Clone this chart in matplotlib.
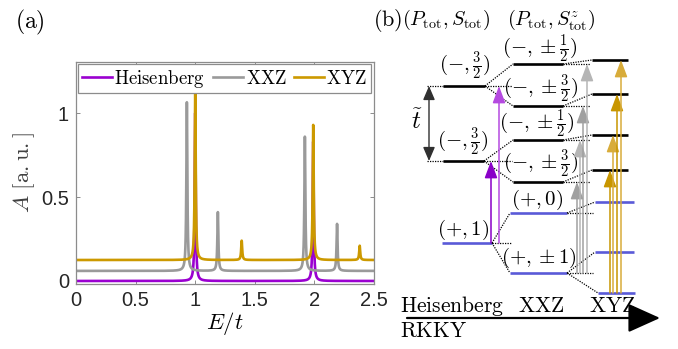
import numpy as np
import matplotlib
matplotlib.use('Agg')
import matplotlib.pyplot as plt

plt.rcParams['mathtext.fontset'] = 'cm'
plt.rcParams['axes.unicode_minus'] = False

# ---- panel (a): spectral function, peak positions / heights
E_range = [0, 2.5]
heis_base = 0.0
heis_pos = [1.0, 1.99]
heis_amp = [1.0, 0.83]
xxz_base = 0.06
xxz_pos = [0.93, 1.19, 1.92, 2.19]
xxz_amp = [1.005, 0.35, 0.80, 0.28]
xyz_base = 0.125
xyz_pos = [1.0, 1.39, 1.99, 2.38]
xyz_amp = [1.005, 0.115, 0.805, 0.085]
gamma = 0.005  # peak half width

xticks = [0, 0.5, 1, 1.5, 2, 2.5]
xticklabels = ['0', '0.5', '1', '1.5', '2', '2.5']
yticks = [0, 0.5, 1]
yticklabels = ['0', '0.5', '1']

# ---- panel (b): level scheme (schematic energies, arbitrary units)
heis_levels = [263, 188, 106]           # (-,3/2), (-,3/2), (+,1)
heis_labels = [r'$(-,\frac{3}{2})$', r'$(-,\frac{3}{2})$', r'$(+,1)$']
xxz_levels = [285, 243, 209, 167, 136, 76]
xxz_labels = [r'$(-,\pm\frac{1}{2})$', r'$(-,\pm\frac{3}{2})$',
              r'$(-,\pm\frac{1}{2})$', r'$(-,\pm\frac{3}{2})$',
              r'$(+,0)$', r'$(+,\pm1)$']
xyz_levels = [289, 255, 214, 179, 147, 97, 56]
# which XXZ level splits into which XYZ level, and Heisenberg -> XXZ
heis_to_xxz = {0: [0, 1], 1: [2, 3], 2: [4, 5]}
xxz_to_xyz = {0: [0], 1: [1], 2: [2], 3: [3], 4: [4], 5: [5, 6]}
# transitions (from level index, to level index)
heis_trans = [(2, 1), (2, 0)]
xxz_trans = [(5, 3), (5, 2), (5, 1), (5, 0)]
xyz_trans = [(6, 3), (6, 2), (6, 1), (6, 0)]


def spectrum(E, base, pos, amp):
    A = np.full_like(E, base)
    for p, a in zip(pos, amp):
        A += a * gamma**2 / ((E - p)**2 + gamma**2)
    return A


W, H = 678, 349
fig = plt.figure(figsize=(W / 100, H / 100), dpi=100)

# ---------------- panel (a)
ax = fig.add_axes([76 / W, 1 - 284 / H, 298 / W, 222 / H], zorder=2)
E = np.linspace(E_range[0], E_range[1], 5001)
c_heis, c_xxz, c_xyz = '#9a00d0', '#9a9a9a', '#cc9900'
ax.plot(E, spectrum(E, heis_base, heis_pos, heis_amp), color=c_heis, lw=1.9, label=r'$\mathrm{Heisenberg}$')
ax.plot(E, spectrum(E, xxz_base, xxz_pos, xxz_amp), color=c_xxz, lw=1.9, label=r'$\mathrm{XXZ}$')
ax.plot(E, spectrum(E, xyz_base, xyz_pos, xyz_amp), color=c_xyz, lw=1.9, label=r'$\mathrm{XYZ}$')
ax.set_xlim(E_range)
ax.set_ylim(-0.018, 1.305)
ax.set_xticks(xticks)
ax.set_xticklabels(xticklabels)
ax.set_yticks(yticks)
ax.set_yticklabels(yticklabels)
for lab in ax.get_xticklabels() + ax.get_yticklabels():
    lab.set_fontfamily('Liberation Sans')
    lab.set_fontsize(14.5)
    lab.set_color('#262626')
ax.tick_params(direction='in', length=3, width=0.7, color='#8c8c8c',
               top=True, right=True, pad=5)
for s in ax.spines.values():
    s.set_color('#8c8c8c')
    s.set_linewidth(0.9)
ax.set_xlabel(r'$E/t$', fontsize=16.5, labelpad=0)
ax.set_ylabel(r'$A\ [\mathrm{a.u.}]$', fontsize=16.5, labelpad=3, color='#404040')
leg = ax.legend(loc='upper left', bbox_to_anchor=(0.0, 1.0), ncol=3, fontsize=13.5,
                handlelength=1.6, handletextpad=0.15, columnspacing=0.4,
                borderpad=0.2, borderaxespad=0.1, fancybox=False, framealpha=1)
leg.get_frame().set_edgecolor('#8c8c8c')
leg.get_frame().set_linewidth(0.9)
fig.text(30 / W, 1 - 22 / H, r'$\mathrm{(a)}$', fontsize=17, ha='center', va='center')

# ---------------- panel (b)
bx = fig.add_axes([0, 0, 1, 1], zorder=1)
bx.set_xlim(0, W)
bx.set_ylim(0, H)
bx.axis('off')

black, blue = 'black', '#5a5ad8'
dot = dict(color='black', lw=0.9, ls=(0, (1, 1)))

# column extents (x) of the three level columns
heis_x = [(443, 485), (443, 484), (442, 492)]
xxz_x = [(513, 563)] * 4 + [(510, 567)] * 2
xyz_x = [(592, 628)] * 4 + [(595, 634), (595, 634), (598, 635)]
heis_col = [black, black, blue]
xxz_col = [black] * 4 + [blue] * 2
xyz_col = [black] * 4 + [blue] * 3

for lv, (x0, x1), c in zip(heis_levels, heis_x, heis_col):
    bx.plot([x0, x1], [lv, lv], color=c, lw=1.9, solid_capstyle='butt')
for lv, (x0, x1), c in zip(xxz_levels, xxz_x, xxz_col):
    bx.plot([x0, x1], [lv, lv], color=c, lw=1.9, solid_capstyle='butt')
for lv, (x0, x1), c in zip(xyz_levels, xyz_x, xyz_col):
    bx.plot([x0, x1], [lv, lv], color=c, lw=1.9, solid_capstyle='butt')

# dotted left extensions for the t~ bracket
for lv in heis_levels[:2]:
    bx.plot([427, 443], [lv, lv], **dot)

# splitting connectors
for i, kids in heis_to_xxz.items():
    x_end = heis_x[i][1]
    bx.plot([x_end, 512], [heis_levels[i]] * 2, **dot)
    for k in kids:
        bx.plot([x_end, xxz_x[k][0]], [heis_levels[i], xxz_levels[k]], **dot)
for i, kids in xxz_to_xyz.items():
    x_end = xxz_x[i][1]
    bx.plot([x_end, xyz_x[kids[0]][0] - 2], [xxz_levels[i]] * 2, **dot)
    for k in kids:
        bx.plot([x_end, xyz_x[k][0]], [xxz_levels[i], xyz_levels[k]], **dot)

# level labels
heis_lab_pos = [(465, 283), (463, 207), (463, 119)]
xxz_lab_pos = [(540, 300), (541, 260), (537, 225), (541, 185), (537, 149), (539, 91)]
for (x, y), t in zip(heis_lab_pos, heis_labels):
    bx.text(x, y, t, fontsize=15, ha='center', va='center')
for (x, y), t in zip(xxz_lab_pos, xxz_labels):
    bx.text(x, y, t, fontsize=15, ha='center', va='center')

# headers
fig.text(388 / W, 1 - 20 / H, r'$\mathrm{(b)}$', fontsize=16, ha='center', va='center')
bx.text(446, 329, r'$(P_{\rm tot},S_{\rm tot})$', fontsize=14.5, ha='center', va='center')
bx.text(551, 329, r'$(P_{\rm tot},S^z_{\rm tot})$', fontsize=14.5, ha='center', va='center')

# t~ double arrow
bx.annotate('', xy=(429, heis_levels[1]), xytext=(429, heis_levels[0]),
            arrowprops=dict(arrowstyle='<|-|>,head_length=0.7,head_width=0.3', mutation_scale=12,
                            lw=1.0, color='#303030', shrinkA=0, shrinkB=0))
bx.text(417, 227, r'$\tilde{t}$', fontsize=18, ha='center', va='center')


def arrow(x, y0, y1, c):
    bx.annotate('', xy=(x, y1), xytext=(x, y0),
                arrowprops=dict(arrowstyle='-|>,head_length=0.8,head_width=0.3',
                                mutation_scale=13, lw=1.1, color=c, shrinkA=0, shrinkB=0))


heis_arrow_x = [491, 499]
heis_arrow_c = ['#8a00c8', '#b54ae0']
for (i, j), x, c in zip(heis_trans, heis_arrow_x, heis_arrow_c):
    arrow(x, heis_levels[i], heis_levels[j], c)

xxz_arrow_x = [577, 580, 583, 587]
xxz_arrow_c = ['#a0a0a0', '#b5b5b5', '#a0a0a0', '#b5b5b5']
for (i, j), x, c in zip(xxz_trans, xxz_arrow_x, xxz_arrow_c):
    arrow(x, xxz_levels[i], xxz_levels[j], c)

xyz_arrow_x = [610, 613, 617, 621]
xyz_arrow_c = ['#c89600', '#d8ac3a', '#c89600', '#d8ac3a']
for (i, j), x, c in zip(xyz_trans, xyz_arrow_x, xyz_arrow_c):
    arrow(x, xyz_levels[i], xyz_levels[j], c)

# RKKY axis
bx.annotate('', xy=(660, 31), xytext=(407, 31),
            arrowprops=dict(arrowstyle='-|>,head_length=1.0,head_width=0.45', mutation_scale=20,
                            lw=1.6, color='black', shrinkA=0, shrinkB=0))
bx.text(400, 37, r'$\mathrm{Heisenberg}$', fontsize=15.5, ha='left', va='baseline')
bx.text(541, 37, r'$\mathrm{XXZ}$', fontsize=15.5, ha='center', va='baseline')
bx.text(612, 37, r'$\mathrm{XYZ}$', fontsize=15.5, ha='center', va='baseline')
bx.text(400, 12, r'$\mathrm{RKKY}$', fontsize=15.5, ha='left', va='baseline')

fig.savefig('out.png', dpi=100)
